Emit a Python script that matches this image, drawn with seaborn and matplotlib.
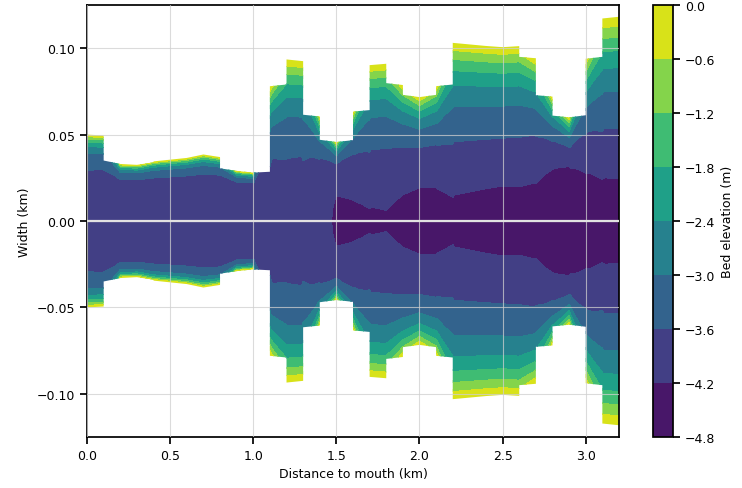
import numpy as np
import matplotlib
matplotlib.use("Agg")
import matplotlib.pyplot as plt
from matplotlib.path import Path
from matplotlib.patches import PathPatch
import seaborn as sns

# channel reaches (km): start of each 0.1 km reach, bank half-width at its two ends
seg_start = [0.0, 0.1, 0.2, 0.3, 0.4, 0.5, 0.6, 0.7, 0.8, 0.9, 1.0, 1.1, 1.2, 1.3, 1.4, 1.5,
             1.6, 1.7, 1.8, 1.9, 2.0, 2.1, 2.2, 2.3, 2.4, 2.5, 2.6, 2.7, 2.8, 2.9, 3.0, 3.1]
w_start = [0.0500, 0.0350, 0.0330, 0.0325, 0.0345, 0.0355, 0.0365, 0.0385, 0.0305, 0.0290, 0.0280,
           0.0780, 0.0935, 0.0615, 0.0470, 0.0457, 0.0633, 0.0902, 0.0798, 0.0730, 0.0717,
           0.0780, 0.1031, 0.1022, 0.1013, 0.1006, 0.0950, 0.0728, 0.0610, 0.0600, 0.0939, 0.1172]
w_end = [0.0495, 0.0330, 0.0325, 0.0340, 0.0355, 0.0365, 0.0385, 0.0370, 0.0290, 0.0280, 0.0285,
         0.0790, 0.0925, 0.0605, 0.0457, 0.0468, 0.0642, 0.0910, 0.0787, 0.0717, 0.0730,
         0.0790, 0.1022, 0.1013, 0.1006, 0.1012, 0.0942, 0.0720, 0.0600, 0.0612, 0.0950, 0.1182]
seg_len = 0.1

# surveyed cross-sections (km): station position and bank half-width used for the bed
station_x = [0.0, 0.1, 0.2, 0.3, 0.4, 0.5, 0.6, 0.7, 0.8, 0.9, 1.0, 1.1, 1.2, 1.3, 1.4, 1.5, 1.6,
             1.7, 1.8, 1.9, 2.0, 2.1, 2.2, 2.3, 2.4, 2.5, 2.6, 2.7, 2.8, 2.9, 3.0, 3.1, 3.2]
station_w = [0.0500, 0.0495, 0.0330, 0.0325, 0.0345, 0.0355, 0.0365, 0.0385, 0.0370, 0.0290,
             0.0280, 0.0780, 0.0935, 0.0925, 0.0605, 0.0457, 0.0633, 0.0902, 0.0910, 0.0787,
             0.0717, 0.0780, 0.1031, 0.1022, 0.1013, 0.1006, 0.1012, 0.0942, 0.0720, 0.0600,
             0.0939, 0.1172, 0.1182]

# bed level along the channel (m): beside the thalweg and at the channel centre
bed_x = [0.0, 1.1, 1.4, 1.5, 1.6, 1.7, 1.8, 1.9, 2.0, 2.1, 2.2, 2.5, 2.6, 2.7, 2.8, 2.9, 3.0, 3.1, 3.2]
bed_side = [-3.80, -3.90, -3.95, -4.00, -3.97, -3.95, -3.98, -4.02, -4.05, -4.07, -4.08,
            -4.13, -4.15, -4.20, -4.25, -4.30, -4.30, -4.28, -4.28]
bed_centre = [-3.80, -3.90, -4.00, -4.28, -4.29, -4.32, -4.30, -4.37, -4.42, -4.45, -4.46,
              -4.57, -4.55, -4.55, -4.72, -4.75, -4.76, -4.78, -4.78]

levels = np.round(np.arange(-4.8, 0.01, 0.6), 1)

sns.set_theme(style="ticks")
plt.rcParams['font.family'] = ['DejaVu Sans']
plt.rcParams['axes.linewidth'] = 1.25
plt.rcParams['xtick.major.width'] = 1.25
plt.rcParams['ytick.major.width'] = 1.25
plt.rcParams['xtick.major.size'] = 5
plt.rcParams['ytick.major.size'] = 5
plt.rcParams['xtick.labelsize'] = 9
plt.rcParams['ytick.labelsize'] = 9
plt.rcParams['axes.labelsize'] = 9
plt.rcParams['axes.edgecolor'] = 'black'
plt.rcParams['xtick.color'] = 'black'
plt.rcParams['ytick.color'] = 'black'
plt.rcParams['axes.labelcolor'] = 'black'
plt.rcParams['text.color'] = 'black'


def build_bed():
    sx = np.array(station_x)
    sw = np.array(station_w)

    x = np.linspace(0, 3.2, 1281)
    y = np.linspace(-0.125, 0.125, 801)
    X, Y = np.meshgrid(x, y)
    A = np.abs(Y)

    # distance to the bank line joining the cross-sections
    d = np.full(X.shape, np.inf)
    for i in range(len(sx) - 1):
        cols = (x >= sx[i] - 0.15) & (x <= sx[i + 1] + 0.15)
        Xc, Ac = X[:, cols], A[:, cols]
        dx, dy = sx[i + 1] - sx[i], sw[i + 1] - sw[i]
        s = np.clip(((Xc - sx[i]) * dx + (Ac - sw[i]) * dy) / (dx * dx + dy * dy), 0, 1)
        dist = np.hypot(Xc - sx[i] - s * dx, Ac - sw[i] - s * dy)
        d[:, cols] = np.minimum(d[:, cols], dist)

    w_local = np.interp(X, sx, sw)
    scale = 2.07 * w_local ** 1.9
    side = np.interp(X, bed_x, bed_side)
    centre = np.interp(X, bed_x, bed_centre)
    base = side + (centre - side) * np.exp(-(Y / 0.03) ** 2)
    Z = base * (1 - np.exp(-d / scale))
    return X, Y, Z


def channel_outline():
    upper = []
    for x0, a, b in zip(seg_start, w_start, w_end):
        upper += [(x0, a), (x0 + seg_len, b)]
    lower = [(px, -py) for px, py in upper[::-1]]
    verts = upper + lower + [upper[0]]
    codes = [Path.MOVETO] + [Path.LINETO] * (len(verts) - 2) + [Path.CLOSEPOLY]
    return Path(verts, codes)


def main():
    X, Y, Z = build_bed()

    fig = plt.figure(figsize=(7.42, 4.89), dpi=100)
    ax = fig.add_axes([0.1173, 0.1043, 0.7169, 0.8834])
    cax = fig.add_axes([0.880, 0.1043, 0.027, 0.8834])

    cmap = sns.color_palette("viridis", as_cmap=True)
    cf = ax.contourf(X, Y, Z, levels=levels, cmap=cmap)
    clip = PathPatch(channel_outline(), transform=ax.transData, facecolor='none', edgecolor='none')
    ax.add_patch(clip)
    cf.set_clip_path(clip)

    ax.set_xlim(0, 3.2)
    ax.set_ylim(-0.125, 0.125)
    ax.set_xticks([0.0, 0.5, 1.0, 1.5, 2.0, 2.5, 3.0])
    ax.set_yticks([-0.10, -0.05, 0.00, 0.05, 0.10])
    ax.set_axisbelow(False)
    ax.grid(True, color='#cfcfcf', alpha=0.75, linewidth=0.8)
    ax.axhline(0, color='#e2e2e2', linewidth=1.6, zorder=3)
    ax.set_xlabel("Distance to mouth (km)")
    ax.set_ylabel("Width (km)")

    cb = fig.colorbar(cf, cax=cax, ticks=levels)
    cb.set_label("Bed elevation (m)", fontsize=9)
    cb.outline.set_edgecolor('black')
    cb.outline.set_linewidth(1.25)
    cax.tick_params(labelsize=9, width=1.25, length=5, colors='black')

    fig.savefig("out.png", dpi=100)
    plt.close(fig)


if __name__ == "__main__":
    main()
